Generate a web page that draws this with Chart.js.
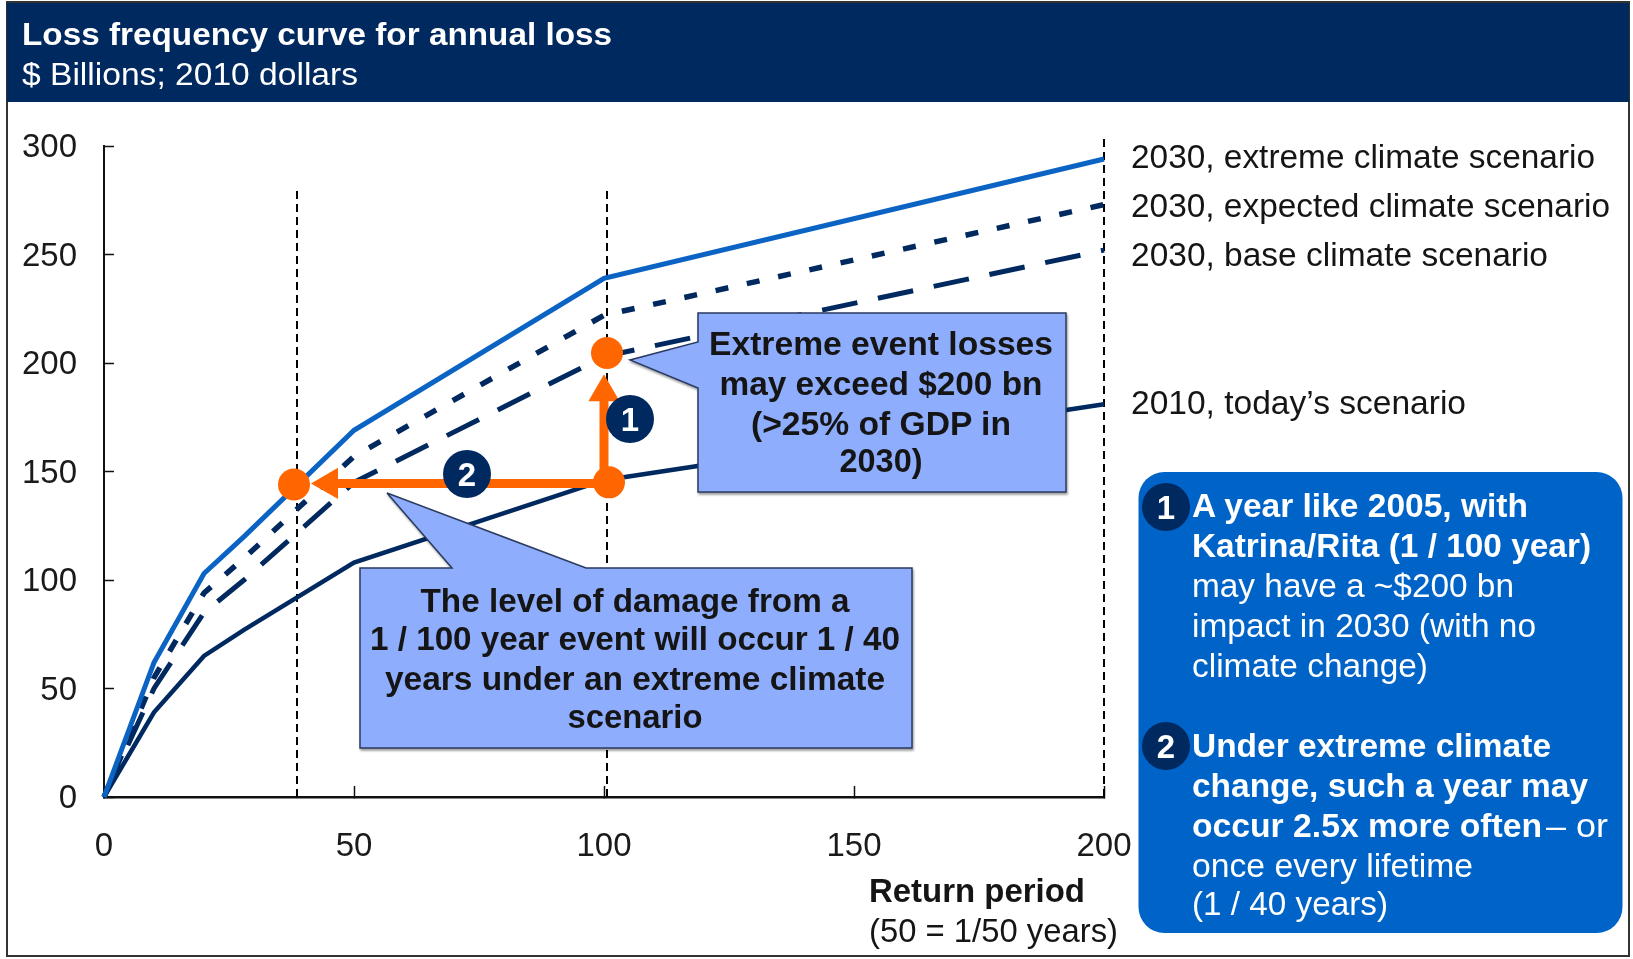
<!DOCTYPE html>
<html>
<head>
<meta charset="utf-8">
<title>Loss frequency curve for annual loss</title>
<style>
html,body{margin:0;padding:0;background:#fff;width:1633px;height:959px;overflow:hidden}
#wrap{position:relative;width:1633px;height:959px}
canvas{position:absolute;left:0;top:0}
svg{position:absolute;left:0;top:0;font-family:"Liberation Sans",Arial,sans-serif}
</style>
</head>
<body>
<div id="wrap">
<canvas id="c" width="1633" height="959"></canvas>
<svg id="o" width="1633" height="959" xmlns="http://www.w3.org/2000/svg"></svg>
</div>
<script src="https://cdn.jsdelivr.net/npm/chart.js@4"></script>
<script>
const returnPeriods = [0, 10, 20, 28, 50, 100, 200];
const extreme2030  = [0, 62, 103, 120, 169, 239, 294];
const expected2030 = [0, 55, 94, 110, 157, 222, 273];
const base2030     = [0, 50, 85, 100, 145, 203, 252];
const today2010    = [0, 39, 65, 77, 108, 146, 181];
const xTicks = [0, 50, 100, 150, 200];
const yTicks = [0, 50, 100, 150, 200, 250, 300];
const refLineA = [[38.6, 0], [38.6, 281]];
const refLineB = [[100.6, 0], [100.6, 281]];
const refLineC = [[200, 0], [200, 305]];
const arrowUp = [[100, 145], [100, 190]];
const arrowLeft = [[101, 144.5], [46, 144.5]];
const arrowUpHead = [[100, 186.5]];
const arrowLeftHead = [[45, 144.5]];
const eventPoints = [[38, 144], [101, 145], [100.6, 204.6]];

const NAVY = '#002960', BLUE = '#0B64C4', ORANGE = '#FF6600';
const FONT = '"Liberation Sans", Arial, sans-serif';
const series = xs => xs.map((y, i) => ({x: returnPeriods[i], y}));
const pts = a => a.map(p => ({x: p[0], y: p[1]}));
const line = (label, data, color, width, dash) => ({
  label, data, borderColor: color, borderWidth: width, borderDash: dash || [],
  pointRadius: 0, tension: 0, clip: false, fill: false, borderCapStyle: 'butt', borderJoinStyle: 'miter'
});

new Chart(document.getElementById('c'), {
  type: 'line',
  data: { datasets: [
    {label:'events', data: pts(eventPoints), showLine:false, pointStyle:'circle', pointRadius:16, pointBackgroundColor:ORANGE, pointBorderWidth:0, clip:false},
    {label:'head 1', data: pts(arrowUpHead), showLine:false, pointStyle:'triangle', pointRadius:18, pointRotation:0, pointBackgroundColor:ORANGE, pointBorderWidth:0, clip:false},
    {label:'head 2', data: pts(arrowLeftHead), showLine:false, pointStyle:'triangle', pointRadius:18, pointRotation:-90, pointBackgroundColor:ORANGE, pointBorderWidth:0, clip:false},
    line('arrow 1', pts(arrowUp), ORANGE, 9),
    line('arrow 2', pts(arrowLeft), ORANGE, 9),
    line('2030, extreme climate scenario', series(extreme2030), BLUE, 5),
    line('2030, expected climate scenario', series(expected2030), NAVY, 5.5, [13, 19]),
    line('2030, base climate scenario', series(base2030), NAVY, 5, [36, 21]),
    line('2010, today\u2019s scenario', series(today2010), NAVY, 4.5),
    line('ref200', pts(refLineC), '#000', 2, [8, 5]),
    line('ref100', pts(refLineB), '#000', 2, [8, 5]),
    line('ref38', pts(refLineA), '#000', 2, [8, 5])
  ]},
  options: {
    responsive: false, animation: false, events: [],
    layout: { padding: { left: 0, top: 146, right: 529, bottom: 0 } },
    plugins: { legend: {display:false}, title: {display:false}, tooltip: {enabled:false} },
    scales: {
      x: {
        type: 'linear', min: 0, max: 200,
        afterBuildTicks: s => { s.ticks = xTicks.map(v => ({value:v})); },
        afterFit: s => { s.height = 162; },
        border: {display:true, color:'#111', width:2.5},
        grid: {drawOnChartArea:false, drawTicks:true, tickLength:-11, tickWidth:1.5, tickColor:'#111'},
        ticks: {color:'#1a1a1a', font:{family:FONT, size:33}, padding:41, maxRotation:0, autoSkip:false}
      },
      y: {
        type: 'linear', min: 0, max: 300,
        afterBuildTicks: s => { s.ticks = yTicks.map(v => ({value:v})); },
        afterFit: s => { s.width = 104; },
        border: {display:true, color:'#111', width:2},
        grid: {drawOnChartArea:false, drawTicks:true, tickLength:-10, tickWidth:1.5, tickColor:'#111'},
        ticks: {color:'#1a1a1a', font:{family:FONT, size:33}, padding:37, autoSkip:false, labelOffset:2}
      }
    }
  }
});

/* Overlay: frame, header, callouts, notes (real text) */
const NS = 'http://www.w3.org/2000/svg';
const svg = document.getElementById('o');
function el(tag, attrs, text) {
  const e = document.createElementNS(NS, tag);
  for (const k in attrs) e.setAttribute(k, attrs[k]);
  if (text !== undefined) e.textContent = text;
  svg.appendChild(e);
  return e;
}
function txt(x, y, s, w, o) {
  o = o || {};
  const a = {x, y, 'font-size': o.size || 33, 'font-weight': o.bold ? 700 : 400, fill: o.fill || '#151515',
             'text-anchor': o.anchor || 'start', textLength: w, lengthAdjust: 'spacingAndGlyphs'};
  return el('text', a, s);
}
const defs = el('defs', {});
defs.innerHTML = '<filter id="sh" x="-5%" y="-5%" width="110%" height="110%"><feDropShadow dx="1" dy="2" stdDeviation="1.2" flood-color="#000" flood-opacity="0.4"/></filter>';

el('rect', {x:7, y:2, width:1622, height:954, fill:'none', stroke:'#333', 'stroke-width':2});
el('rect', {x:7, y:3, width:1622, height:99, fill:NAVY});
txt(22, 45, 'Loss frequency curve for annual loss', 590, {bold:true, fill:'#fff', size:31});
txt(22, 85, '$ Billions; 2010 dollars', 336, {fill:'#fff', size:31});

txt(1131, 168, '2030, extreme climate scenario', 464);
txt(1131, 217, '2030, expected climate scenario', 479);
txt(1131, 266, '2030, base climate scenario', 417);
txt(1131, 414, '2010, today\u2019s scenario', 335);

txt(869, 902, 'Return period', 216, {bold:true});
txt(869, 942, '(50 = 1/50 years)', 249);

const CALL = '#8FADFD';
el('path', {d:'M698 313 H1066 V492 H698 V388 L630 360 L698 342 Z', fill:CALL, stroke:'#2a3a60', 'stroke-width':1.5, filter:'url(#sh)'});
[['Extreme event losses',355,344],['may exceed $200 bn',395,323],['(>25% of GDP in',435,260],['2030)',472,83]]
  .forEach(l => txt(881, l[1], l[0], l[2], {bold:true, anchor:'middle'}));

el('path', {d:'M360 568 H452 L387 493 L586 568 H912 V748 H360 Z', fill:CALL, stroke:'#2a3a60', 'stroke-width':1.5, filter:'url(#sh)'});
[['The level of damage from a',612,429],['1 / 100 year event will occur 1 / 40',650,530],['years under an extreme climate',690,500],['scenario',728,135]]
  .forEach(l => txt(635, l[1], l[0], l[2], {bold:true, anchor:'middle'}));

function badge(cx, cy, s, r) {
  el('circle', {cx, cy, r: r || 24, fill:NAVY});
  el('text', {x:cx, y:cy+12, 'font-size':33, 'font-weight':700, fill:'#fff', 'text-anchor':'middle'}, s);
}
badge(630, 419, '1');
badge(467, 474, '2');

el('rect', {x:1138.5, y:472, width:484, height:461, rx:26, ry:26, fill:'#0063C7'});
badge(1166, 507, '1');
badge(1166, 746, '2');
const W = '#fff';
[['A year like 2005, with',517,336,true],['Katrina/Rita (1 / 100 year)',557,399,true],['may have a ~$200 bn',597,322,false],
 ['impact in 2030 (with no',637,344,false],['climate change)',677,236,false],['Under extreme climate',757,359,true],
 ['change, such a year may',797,396,true],['occur 2.5x more often',837,350,true],['once every lifetime',877,281,false],['(1 / 40 years)',915,196,false]]
  .forEach(l => txt(1192, l[1], l[0], l[2], {bold:l[3], fill:W}));
txt(1546, 837, '\u2013 or', 62, {fill:W});
</script>
</body>
</html>
